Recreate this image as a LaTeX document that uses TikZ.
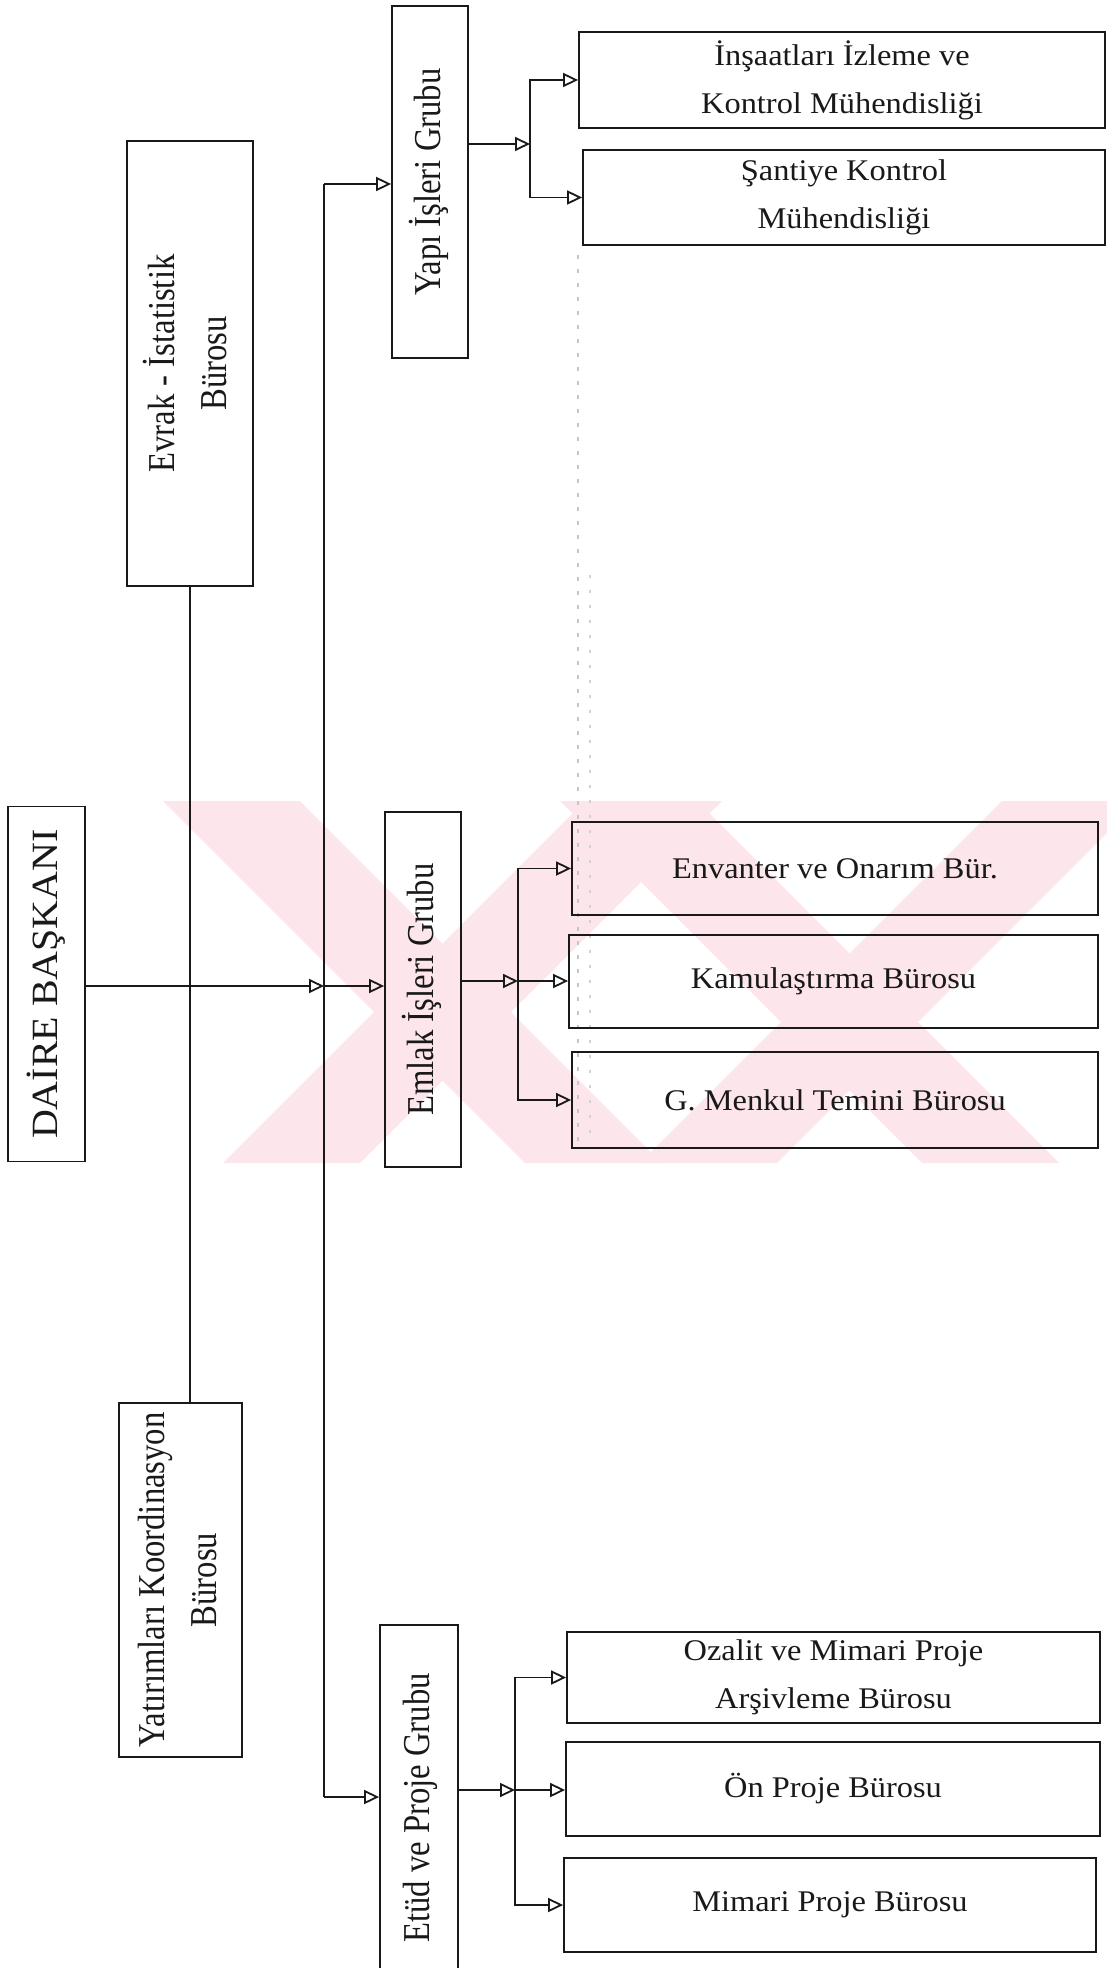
\documentclass[tikz,border=0pt]{standalone}
\usepackage{fontspec}
\setmainfont{Liberation Serif}
\newfontfamily\hfont[FakeStretch=1.08]{Liberation Serif}
\newfontfamily\vfont[FakeStretch=0.86]{Liberation Serif}
\usetikzlibrary{arrows.meta}
\definecolor{wmpink}{RGB}{252,229,235}
\definecolor{ink}{RGB}{25,25,25}
% rotated, centred text block for the upright boxes
\newcommand\vtext[1]{\rotatebox{90}{\vfont\fontsize{19}{26}\selectfont\begin{tabular}{@{}c@{}}#1\end{tabular}}}

\begin{document}
\begin{tikzpicture}[x=0.5pt,y=-0.5pt,
  ln/.style={line width=0.9pt, draw=ink},
  arr/.style={ln, -{Triangle[open,length=7.5pt,width=7pt,line width=0.9pt]}},
  unit/.style={draw=ink, text=ink, line width=0.9pt, inner sep=0pt},
  hbox/.style={unit, align=center, font=\hfont\fontsize{15}{24}\selectfont},
  sz/.style 2 args={minimum width=#1*0.5pt, minimum height=#2*0.5pt}]

\useasboundingbox (0,0) rectangle (1107,1968);

% background emblem
\fill[wmpink] (163,801) -- (300,801) -- (662,1163) -- (525,1163) -- cycle;
\fill[wmpink] (223,1163) -- (360,1163) -- (722,801) -- (585,801) -- cycle;
\fill[wmpink] (560,801) -- (697,801) -- (1059,1163) -- (922,1163) -- cycle;
\fill[wmpink] (640,1163) -- (777,1163) -- (1107,833) -- (1107,801) -- (1002,801) -- cycle;

% faint scan traces
\draw[gray!45, line width=0.6pt, dash pattern=on 2pt off 5pt] (578,255) -- (578,1150);
\draw[gray!35, line width=0.6pt, dash pattern=on 1.5pt off 6pt] (590,575) -- (590,1140);

% boxes
\node[unit, sz={126}{445}] (evrak) at (190,363.5) {\vtext{Evrak - İstatistik\\Bürosu}};
\node[unit, sz={123}{354}] (yatirim) at (180.5,1580) {\vtext{Yatırımları Koordinasyon\\Bürosu}};
\node[unit, sz={77}{355}] (daire) at (46.5,984)
  {\rotatebox{90}{\hfont\fontsize{18.5}{24}\selectfont DAİRE BAŞKANI}};

\node[unit, sz={76}{352}] (yapi) at (430,182) {\vtext{Yapı İşleri Grubu}};
\node[unit, sz={76}{355}] (emlak) at (423,989.5) {\vtext{Emlak İşleri Grubu}};
\node[unit, sz={78}{366}] (etud) at (419,1808) {\vtext{Etüd ve Proje Grubu}};

\node[hbox, sz={526}{96}] (insaat) at (842,80) {İnşaatları İzleme ve\\Kontrol Mühendisliği};
\node[hbox, sz={522}{95}] (santiye) at (844,197.5) {Şantiye Kontrol\\Mühendisliği};

\node[hbox, sz={526}{93}] (envanter) at (835,868.5) {Envanter ve Onarım Bür.};
\node[hbox, sz={529}{93}] (kamu) at (833.5,981.5) {Kamulaştırma Bürosu};
\node[hbox, sz={526}{96}] (menkul) at (835,1100) {G. Menkul Temini Bürosu};

\node[hbox, sz={533}{91}] (ozalit) at (833.5,1677.5) {Ozalit ve Mimari Proje\\Arşivleme Bürosu};
\node[hbox, sz={534}{94}] (onproje) at (833,1789) {Ön Proje Bürosu};
\node[hbox, sz={532}{94}] (mimari) at (830,1905) {Mimari Proje Bürosu};

% junctions
\coordinate (vt) at (324,184);
\coordinate (vd) at (324,986);
\coordinate (vb) at (324,1797);
\coordinate (jY) at (530,144);
\coordinate (jE) at (518,981);
\coordinate (jP) at (515,1790);

% staff line
\draw[ln] (evrak.south) -- (evrak.south |- yatirim.north);

% head of department to the three groups
\draw[arr] (daire.east |- vd) -- (vd);
\draw[ln] (vt) -- (vb);
\draw[arr] (vt) -- (yapi.west |- vt);
\draw[arr] (vd) -- (emlak.west |- vd);
\draw[arr] (vb) -- (etud.west |- vb);

% groups to their offices
\draw[arr] (yapi.east |- jY) -- (jY);
\draw[arr] (jY) |- (insaat.west);
\draw[arr] (jY) |- (santiye.west);

\draw[arr] (emlak.east |- jE) -- (jE);
\draw[arr] (jE) |- (envanter.west);
\draw[arr] (jE) -- (kamu.west |- jE);
\draw[arr] (jE) |- (menkul.west);

\draw[arr] (etud.east |- jP) -- (jP);
\draw[arr] (jP) |- (ozalit.west);
\draw[arr] (jP) -- (onproje.west |- jP);
\draw[arr] (jP) |- (mimari.west);
\end{tikzpicture}
\end{document}
